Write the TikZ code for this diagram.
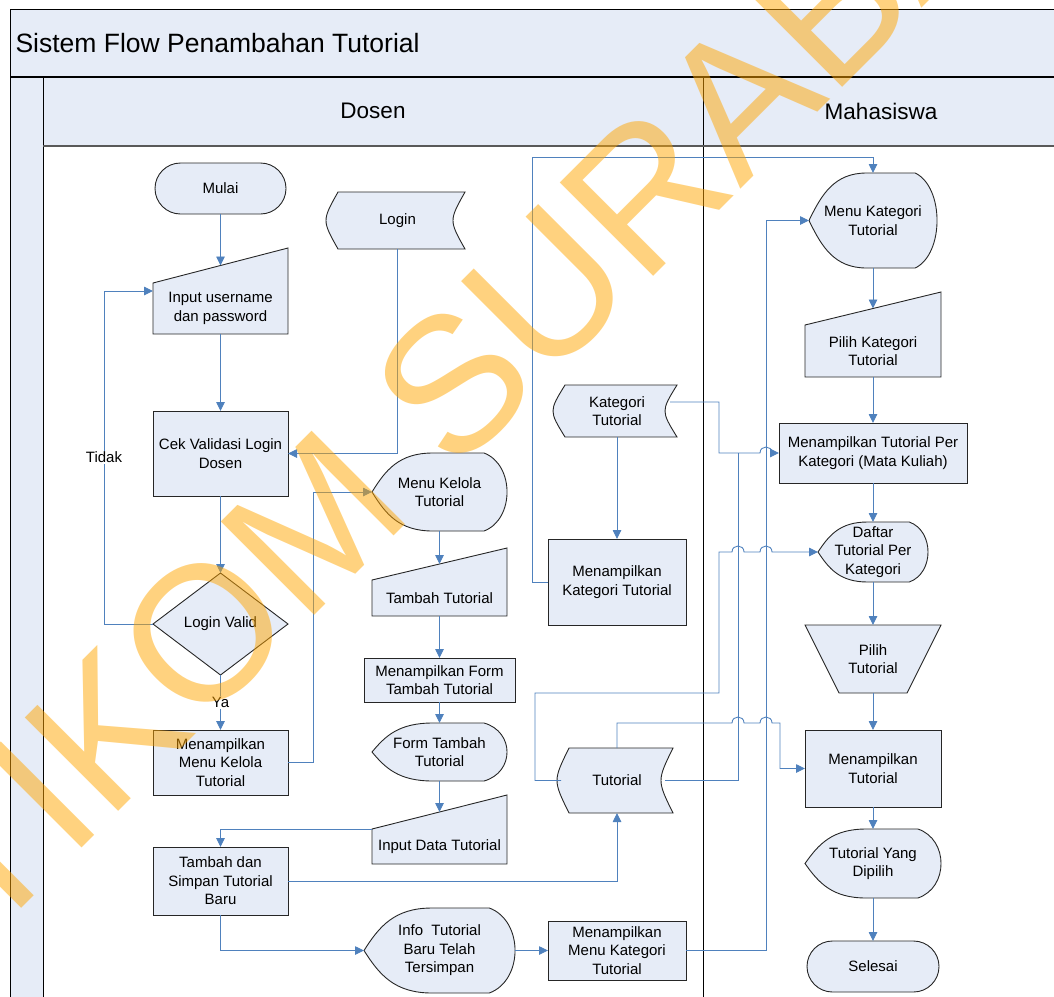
\documentclass[tikz,border=0pt]{standalone}
\usepackage{fontspec}
\setmainfont{Liberation Sans}
\usepackage{tikz}
\usetikzlibrary{calc}
\usetikzlibrary{arrows.meta}
\usetikzlibrary{shapes.geometric}
\usetikzlibrary{shapes.misc}

\definecolor{boxfill}{RGB}{230,236,247}
\definecolor{flowblue}{RGB}{79,129,189}
\definecolor{wmorange}{RGB}{255,165,0}
\newcommand{\boxfont}{\fontsize{15}{18.5}\selectfont}

% manual input: name, x0, x1, top right, top left, bottom, text
\newcommand{\maninshape}[7]{%
  \filldraw[shp] (#2,#5) -- (#3,#4) -- (#3,#6) -- (#2,#6) -- cycle;
  \node[txt,minimum width=#3-#2,minimum height=#6-#5] (#1) at ({(#2+#3)/2},{(#5+#6)/2}) {#7};
  \coordinate (#1-in) at ({(#2+#3)/2},{(#4+#5)/2});}
% stored data: name, x0, y0, x1, y1, text
\newcommand{\storshape}[6]{%
  \filldraw[shp] ({#2+8},#3) -- (#4,#3) .. controls ({#4-16},{(#3+#5)/2}) .. (#4,#5)
    -- ({#2+8},#5) .. controls ({#2-8},{(#3+#5)/2}) .. ({#2+8},#3) -- cycle;
  \node[txt,minimum width=#4-#2,minimum height=#5-#3] (#1) at ({(#2+#4)/2},{(#3+#5)/2}) {#6};}
% display: name, x0, y0, x1, y1, text
\newcommand{\dispshape}[6]{%
  \filldraw[shp] ({#2+0.45*(#4-#2)},#3) -- ({#2+0.83*(#4-#2)},#3)
    .. controls ({#2+1.057*(#4-#2)},{#3+0.15*(#5-#3)}) and ({#2+1.057*(#4-#2)},{#5-0.15*(#5-#3)}) .. ({#2+0.83*(#4-#2)},#5)
    -- ({#2+0.45*(#4-#2)},#5)
    .. controls ({#2+0.2*(#4-#2)},#5) and ({#2+0.1*(#4-#2)},{#5-0.22*(#5-#3)}) .. (#2,{(#3+#5)/2})
    .. controls ({#2+0.1*(#4-#2)},{#3+0.22*(#5-#3)}) and ({#2+0.2*(#4-#2)},#3) .. ({#2+0.45*(#4-#2)},#3) -- cycle;
  \node[txt,minimum width=#4-#2,minimum height=#5-#3] (#1) at ({(#2+#4)/2},{(#3+#5)/2}) {#6};}

\begin{document}
\begin{tikzpicture}[x=1pt,y=-1pt,
    shp/.style={draw=black!85,fill=boxfill,line width=0.9pt},
    proc/.style={shp,rectangle,align=center,inner sep=2pt,outer sep=0pt,font=\boxfont},
    term/.style={shp,rounded rectangle,align=center,inner sep=2pt,outer sep=0pt,font=\boxfont},
    dec/.style={shp,diamond,align=center,inner sep=0pt,outer sep=0pt,font=\boxfont},
    txt/.style={rectangle,align=center,inner sep=2pt,outer sep=0pt,font=\boxfont},
    lbl/.style={fill=white,inner sep=1pt,font=\boxfont},
    flow/.style={draw=flowblue,line width=0.9pt,-{Triangle[length=9pt,width=8.5pt]}},
    link/.style={draw=flowblue,line width=0.9pt},
    frame/.style={draw=black,line width=1pt},
    wm/.style={anchor=base west,rotate=45,inner sep=0pt,text=wmorange,text opacity=0.5,font=\fontsize{192}{192}\selectfont}]
\useasboundingbox (0,0) rectangle (1054,996);
\clip (0,0) rectangle (1054,996);
% swimlane frame
\fill[boxfill] (10,9) rectangle (1064,77);
\fill[boxfill] (10,77) rectangle (43,1004);
\fill[boxfill] (43,77) rectangle (1064,146);
\draw[frame] (1064,9) -- (10,9) -- (10,1004);
\draw[frame] (43,77) -- (43,1004);
\draw[frame] (703,77) -- (703,1004);
\draw[draw=black!65,line width=1.3] (43,146) -- (1064,146);
\draw[frame,line width=1.8] (10,77) -- (1064,77);
\node[anchor=west,font=\fontsize{26.5}{30}\selectfont] (judul) at (12,43) {Sistem Flow Penambahan Tutorial};
\node[font=\fontsize{22.5}{26}\selectfont] (dosen) at (373,111) {Dosen};
\node[font=\fontsize{22.5}{26}\selectfont] (mhs) at (881,111) {Mahasiswa};

% Dosen
\node[term,minimum width=135,minimum height=51] (mulai) at (220.5,188.5) {Mulai};
\storshape{login}{330}{192}{465}{249}{Login}
\maninshape{input}{153}{288}{248}{283}{334}{Input username\\dan password}
\node[proc,minimum width=135,minimum height=85] (cek) at (220.5,453.5) {Cek Validasi Login\\Dosen};
\node[dec,minimum width=135,minimum height=102] (valid) at (220.5,624) {Login Valid};
\node[proc,minimum width=135,minimum height=65] (mkelola) at (220.5,762.5) {Menampilkan\\Menu Kelola\\Tutorial};
\node[proc,minimum width=135,minimum height=68] (tsimpan) at (220.5,881) {Tambah dan\\Simpan Tutorial\\Baru};
\dispshape{menukelola}{372}{453}{507}{531}{Menu Kelola\\Tutorial}
\maninshape{tambah}{372}{507}{548}{580}{616}{Tambah Tutorial}
\node[proc,minimum width=151,minimum height=44] (mform) at (439.5,680) {Menampilkan Form\\Tambah Tutorial};
\dispshape{formtambah}{372}{723}{507}{781}{Form Tambah\\Tutorial}
\maninshape{inputdata}{372}{507}{795}{829}{864}{Input Data Tutorial}
\dispshape{info}{364}{908}{515}{993}{Info\ \ Tutorial\\Baru Telah\\Tersimpan}
\storshape{kategori}{557}{385}{677}{437}{Kategori\\Tutorial}
\node[proc,minimum width=138,minimum height=86] (mkategori) at (617,582) {Menampilkan\\Kategori Tutorial};
\storshape{tutorial}{561}{748}{673}{813}{Tutorial}
\node[proc,minimum width=138,minimum height=59] (mmenukat) at (617,950.5) {Menampilkan\\Menu Kategori\\Tutorial};

% Mahasiswa
\dispshape{menukat}{809}{173}{937}{268}{Menu Kategori\\Tutorial}
\maninshape{pilihkat}{805}{941}{292}{325}{377}{Pilih Kategori\\Tutorial}
\node[proc,minimum width=188,minimum height=60] (mperkat) at (873,453) {Menampilkan Tutorial Per\\Kategori (Mata Kuliah)};
\dispshape{daftar}{818}{522}{928}{582}{Daftar\\Tutorial Per\\Kategori}
\filldraw[shp] (805,625) -- (941,625) -- (907,693) -- (839,693) -- cycle;
\node[txt,minimum width=136,minimum height=68] (pilihtut) at (873,659) {Pilih\\Tutorial};
\node[proc,minimum width=136,minimum height=77] (mtutorial) at (873,768.5) {Menampilkan\\Tutorial};
\dispshape{dipilih}{805}{829}{941}{898}{Tutorial Yang\\Dipilih}
\node[term,minimum width=136,minimum height=51] (selesai) at (873,966.5) {Selesai};

% alur
\draw[flow] (mulai) -- (input-in);
\draw[flow] (input) -- (cek);
\draw[flow] (login.south) |- (cek.east);
\draw[flow] (cek) -- (valid);
\draw[flow] (valid.west) -| node[lbl,pos=0.75] (tidak) {Tidak} ($(input.north west)+(-49,8)$) -- ($(input.north west)+(0,8)$);
\draw[flow] (valid) -- node[lbl] (ya) {Ya} (mkelola);
\draw[flow] (mkelola.east) -- ++(25,0) |- (menukelola.west);
\draw[flow] (menukelola) -- (tambah-in);
\draw[flow] (tambah) -- (mform);
\draw[flow] (mform) -- (formtambah);
\draw[flow] (formtambah) -- (inputdata-in);
\draw[flow] (inputdata.north west) -| (tsimpan.north);
\draw[flow] (tsimpan.east) -| (tutorial.south);
\draw[flow] (tsimpan.south) |- (info.west);
\draw[flow] (info) -- (mmenukat);
\draw[flow] (mmenukat.east) -- ++(80,0) |- (menukat.west);
\draw[flow] (mkategori.west) -- ++(-16,0) |- ($(menukat.north)+(0,-16)$) -- (menukat.north);
\draw[flow] (kategori) -- (mkategori);
\draw[flow] ([xshift=-7pt,yshift=9pt]kategori.east) -| (719,453) -- (760,453) .. controls (760,445) and (772,445) .. (772,453) -- (mperkat.west);
\draw[link] ([xshift=-8pt]tutorial.east) -| (738,453);
\draw[flow] (tutorial.west) -| (535,693) -| (719,552) -- (732,552) .. controls (732,544) and (744,544) .. (744,552) -- (760,552) .. controls (760,544) and (772,544) .. (772,552) -- (daftar.west);
\draw[flow] (tutorial.north) |- (732,723) .. controls (732,715) and (744,715) .. (744,723) -- (760,723) .. controls (760,715) and (772,715) .. (772,723) -- (780,723) |- (mtutorial.west);
\draw[flow] (menukat) -- (pilihkat-in);
\draw[flow] (pilihkat) -- (mperkat);
\draw[flow] (mperkat) -- (daftar);
\draw[flow] (daftar) -- (pilihtut);
\draw[flow] (pilihtut) -- (mtutorial);
\draw[flow] (mtutorial) -- (dipilih);
\draw[flow] (dipilih) -- (selesai);

\node[wm] (stikom) at (-104,1034) {STIKOM SURABAYA};
\end{tikzpicture}
\end{document}
